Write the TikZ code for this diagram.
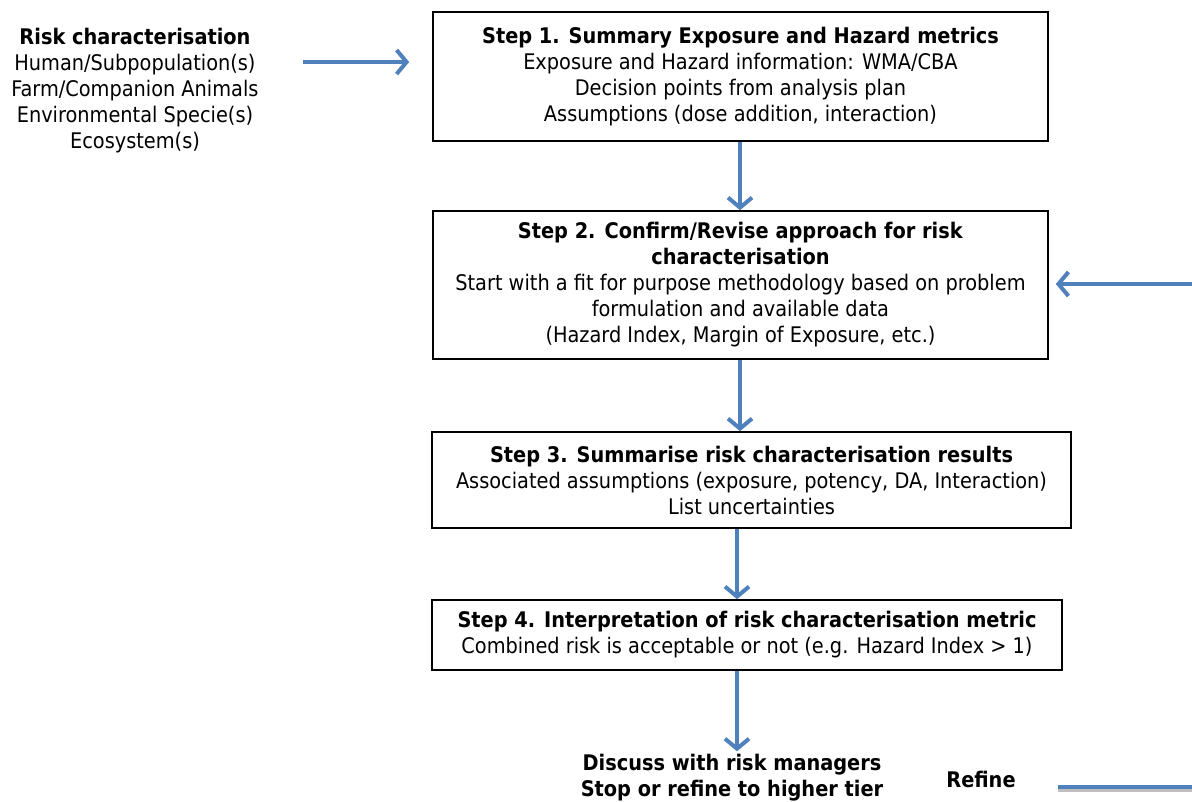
\documentclass[tikz,border=0pt]{standalone}
\usepackage{fontspec}
\setmainfont{DejaVu Sans Condensed}
\definecolor{flowblue}{RGB}{79, 129, 189}
\usetikzlibrary{arrows.meta}
\usetikzlibrary{positioning}

\begin{document}
\begin{tikzpicture}[
  stepbox/.style={draw=black, line width=1.6pt, inner sep=0pt, align=center, font=\fontsize{21.5}{26}\selectfont},
  plain/.style={inner sep=0pt, align=center, font=\fontsize{21.5}{26}\selectfont},
  flow/.style={draw=flowblue, line width=4pt, -{Straight Barb[length=10pt, width=24pt, line width=4pt]}}]
\useasboundingbox (0pt, 0pt) rectangle (1192pt, -801pt);
\node (risk) [plain] at (135pt, -90.5pt) {\textbf{Risk characterisation}\\Human/Subpopulation(s)\\Farm/Companion Animals\\Environmental Specie(s)\\Ecosystem(s)};
\node (s1) [stepbox, minimum width=615pt, minimum height=129pt] at (740.5pt, -76.5pt) {\textbf{Step 1. Summary Exposure and Hazard metrics}\\Exposure and Hazard information: WMA/CBA\\Decision points from analysis plan\\Assumptions (dose addition, interaction)};
\node (s2) [stepbox, minimum width=615pt, minimum height=148pt] at (740.5pt, -285pt) {\textbf{Step 2. Confirm/Revise approach for risk}\\\textbf{characterisation}\\Start with a fit for purpose methodology based on problem\\formulation and available data\\(Hazard Index, Margin of Exposure, etc.)};
\node (s3) [stepbox, minimum width=639pt, minimum height=96pt] at (751.5pt, -480pt) {\textbf{Step 3. Summarise risk characterisation results}\\Associated assumptions (exposure, potency, DA, Interaction)\\List uncertainties};
\node (s4) [stepbox, minimum width=630pt, minimum height=70pt] at (747pt, -635pt) {\textbf{Step 4. Interpretation of risk characterisation metric}\\Combined risk is acceptable or not (e.g. Hazard Index > 1)};
\node (talk) [plain] at (732pt, -778pt) {\textbf{Discuss with risk managers}\\\textbf{Stop or refine to higher tier}};
\node (refine) [plain] at (981pt, -779pt) {\textbf{Refine}};
\coordinate (inL) at (303pt, -62pt);
\coordinate (inR) at (1192pt, -284pt);
\coordinate (outL) at (1058pt, -787pt);
\coordinate (outR) at (1192pt, -787pt);
\draw [flow, shorten >=23pt] (inL) -- (inL -| s1.west);
\draw [flow, shorten >=7pt] (inR) -- (inR -| s2.east);
\draw [flow] (s1.south -| 740pt, 0) -- (s2.north -| 740pt, 0);
\draw [flow] (s2.south -| 740pt, 0) -- (s3.north -| 740pt, 0);
\draw [flow] (s3.south -| 737pt, 0) -- (s4.north -| 737pt, 0);
\draw [flow, shorten >=3pt] (s4.south -| 737pt, 0) -- (talk.north -| 737pt, 0);
\draw [draw=black!25, line width=3pt] ([yshift=-3pt]outL) -- ([yshift=-3pt]outR);
\draw [draw=flowblue, line width=4pt] (outL) -- (outR);
\end{tikzpicture}
\end{document}
